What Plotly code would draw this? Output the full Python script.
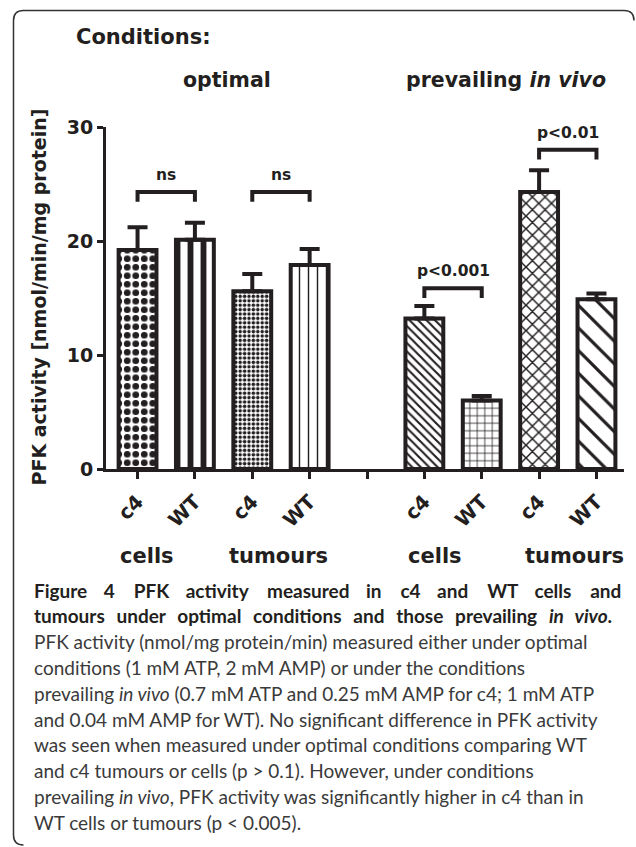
import plotly.graph_objects as go

# ---------------- data ----------------
tick_labels = ["c4", "WT", "c4", "WT", "", "c4", "WT", "c4", "WT"]
genotypes = ["c4", "WT", "c4", "WT", "c4", "WT", "c4", "WT"]
sample_types = ["cells", "cells", "tumours", "tumours", "cells", "cells", "tumours", "tumours"]
conditions = ["optimal"] * 4 + ["prevailing in vivo"] * 4
pfk_mean = [19.2, 20.1, 15.6, 17.9, 13.2, 6.0, 24.3, 14.9]
pfk_sem = [2.0, 1.5, 1.5, 1.4, 1.1, 0.4, 1.9, 0.5]
y_ticks = [0, 10, 20, 30]
comparisons = [(0, 1, "ns"), (2, 3, "ns"), (4, 5, "p&lt;0.001"), (6, 7, "p&lt;0.01")]
group_labels = ["cells", "tumours", "cells", "tumours"]
caption_title = [
    "Figure 4 PFK activity measured in c4 and WT cells and",
    "tumours under optimal conditions and those prevailing <i>in vivo</i>.",
]
caption_body = [
    "PFK activity (nmol/mg protein/min) measured either under optimal",
    "conditions (1 mM ATP, 2 mM AMP) or under the conditions",
    "prevailing <i>in vivo</i> (0.7 mM ATP and 0.25 mM AMP for c4; 1 mM ATP",
    "and 0.04 mM AMP for WT). No significant difference in PFK activity",
    "was seen when measured under optimal conditions comparing WT",
    "and c4 tumours or cells (p &gt; 0.1). However, under conditions",
    "prevailing <i>in vivo</i>, PFK activity was significantly higher in c4 than in",
    "WT cells or tumours (p &lt; 0.005).",
]

# ---------------- styling / layout ----------------
W, H = 636, 847
L, R, T, B = 106, 12, 127, 378
PW, PH = W - L - R, H - T - B
INK = "#231f20"
FONT = "DejaVu Sans"
CAPFONT = "Lato"


def px2x(px):
    return (px - L) / PW


def px2y(py):
    return (H - B - py) / PH


slots = [i for i, t in enumerate(tick_labels) if t]

pat_shapes = [".", "|", ".", "|", "\\", "+", "x", "\\"]
pat_sizes = [8.5, 13, 4.4, 9, 6, 7.5, 9, 16]
pat_solid = [0.5, 0.45, 0.5, 0.16, 0.35, 0.2, 0.3, 0.2]

fig = go.Figure()
fig.add_trace(go.Bar(
    x=slots,
    y=pfk_mean,
    width=0.66,
    customdata=list(zip(genotypes, sample_types, conditions)),
    marker=dict(
        color="white",
        line=dict(color=INK, width=4),
        pattern=dict(shape=pat_shapes, size=pat_sizes, solidity=pat_solid,
                     fgcolor=INK, bgcolor="white", fillmode="replace"),
    ),
    error_y=dict(type="data", symmetric=False, array=pfk_sem,
                 arrayminus=[0] * len(pfk_sem), thickness=4, width=10, color=INK),
    showlegend=False,
))

# significance brackets
bracket_levels = [24.3, 24.3, 15.85, 28.0]
leg = 0.85
shapes = []
annotations = []
for (a, b, lab), lev in zip(comparisons, bracket_levels):
    xa, xb = slots[a], slots[b]
    shapes.append(dict(type="path", xref="x", yref="y",
                       path=f"M{xa},{lev - leg} L{xa},{lev} L{xb},{lev} L{xb},{lev - leg}",
                       line=dict(color=INK, width=4)))
    annotations.append(dict(x=(xa + xb) / 2, y=lev + 1.5, xref="x", yref="y",
                            text=lab, showarrow=False, xanchor="center", yanchor="middle",
                            font=dict(family=FONT, size=15.5, color=INK, weight="bold")))

# group labels under axis
group_x = [0.17, 2.45, 5.19, 7.61]
for gx, gl in zip(group_x, group_labels):
    annotations.append(dict(x=gx, y=px2y(556), xref="x", yref="paper", text=gl,
                            showarrow=False, xanchor="center", yanchor="middle",
                            font=dict(family=FONT, size=21, color=INK, weight="bold")))

# headings
annotations.append(dict(x=px2x(74), y=px2y(37), xref="paper", yref="paper",
                        text="Conditions:", showarrow=False, xanchor="left", yanchor="middle",
                        font=dict(family=FONT, size=21, color=INK, weight="bold")))
annotations.append(dict(x=px2x(226.5), y=px2y(80), xref="paper", yref="paper",
                        text="optimal", showarrow=False, xanchor="center", yanchor="middle",
                        font=dict(family=FONT, size=20.5, color=INK, weight="bold")))
annotations.append(dict(x=px2x(506), y=px2y(80), xref="paper", yref="paper",
                        text="prevailing <i>in vivo</i>", showarrow=False,
                        xanchor="center", yanchor="middle",
                        font=dict(family=FONT, size=20.5, color=INK, weight="bold")))

# y axis title
annotations.append(dict(x=px2x(38.5), y=px2y(297), xref="paper", yref="paper",
                        text="PFK activity [nmol/min/mg protein]", textangle=-90,
                        showarrow=False, xanchor="center", yanchor="middle",
                        font=dict(family=FONT, size=19, color=INK, weight="bold")))


# caption (title lines are justified by widening the word gaps)
def justify(text, gaps):
    words = text.split(" ")
    out = words[0]
    for k, w in enumerate(words[1:]):
        out += " " + gaps[k % len(gaps)] + w
    return out


gap_sets = [["\u2002\u2009", "\u2002\u2005"], ["\u2005\u2009"]]
cap_lines = [justify(t, g) for t, g in zip(caption_title, gap_sets)] + caption_body
cap_left = 32
line_y0 = 590
line_step = 25.8
for i, t in enumerate(cap_lines):
    bold = i < len(caption_title)
    annotations.append(dict(x=px2x(cap_left), y=px2y(line_y0 + i * line_step),
                            xref="paper", yref="paper", text=t, showarrow=False,
                            xanchor="left", yanchor="middle",
                            font=dict(family=CAPFONT, size=19,
                                      color=INK if bold else "#3a3a3a",
                                      weight="bold" if bold else "normal")))

# frame
fx0, fy0, fx1, fy1, rr = 13.5, 10.5, 634, 845, 10
frame_path = (f"M{px2x(fx1)},{px2y(fy0 + rr)} Q{px2x(fx1)},{px2y(fy0)} {px2x(fx1 - rr)},{px2y(fy0)} "
              f"L{px2x(fx0 + rr)},{px2y(fy0)} Q{px2x(fx0)},{px2y(fy0)} {px2x(fx0)},{px2y(fy0 + rr)} "
              f"L{px2x(fx0)},{px2y(fy1 - rr)} Q{px2x(fx0)},{px2y(fy1)} {px2x(fx0 + rr)},{px2y(fy1)}")
shapes.append(dict(type="path", xref="paper", yref="paper", path=frame_path,
                   line=dict(color="#333333", width=1.5)))

fig.update_layout(
    width=W, height=H,
    margin=dict(l=L, r=R, t=T, b=B, autoexpand=False),
    paper_bgcolor="white", plot_bgcolor="white",
    shapes=shapes, annotations=annotations,
    xaxis=dict(range=[-0.55, 8.48], tickmode="array", tickvals=list(range(len(tick_labels))),
               ticktext=tick_labels, tickangle=-45, ticks="outside", ticklen=7, tickwidth=3,
               tickcolor=INK, showline=True, linewidth=3, linecolor=INK, showgrid=False,
               zeroline=False, ticklabelstandoff=3,
               tickfont=dict(family=FONT, size=20, color=INK, weight="bold")),
    yaxis=dict(range=[0, 30], tickmode="array", tickvals=y_ticks, ticks="outside",
               ticklen=6, tickwidth=3, tickcolor=INK, showline=True, linewidth=3,
               linecolor=INK, showgrid=False, zeroline=False,
               tickfont=dict(family=FONT, size=19, color=INK, weight="bold")),
)

fig.write_html("out.html", config={"displayModeBar": False},
               post_script="document.body.style.margin='0px';")
